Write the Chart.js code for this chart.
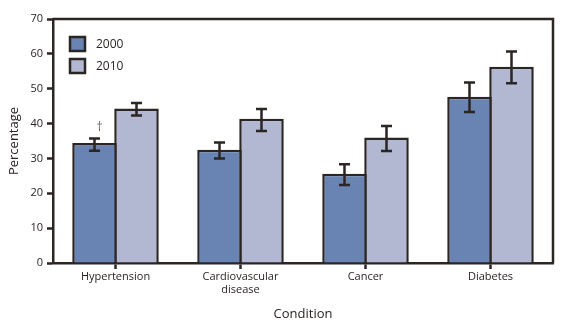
<!DOCTYPE html>
<html>
<head>
<meta charset="utf-8">
<script src="https://cdn.jsdelivr.net/npm/chart.js@4"></script>
<style>
  html, body { margin: 0; padding: 0; background: #fff; }
  #wrap { width: 583px; height: 324px; }
</style>
</head>
<body>
<div id="wrap"><canvas id="grafico" width="583" height="324"></canvas></div>
<script>
const categorias = ['Hypertension', ['Cardiovascular', 'disease'], 'Cancer', 'Diabetes'];
const anos = ['2000', '2010'];
const valores2000 = [34.4, 32.5, 25.6, 47.7];
const baixo2000 = [32.2, 30.0, 22.4, 43.3];
const alto2000 = [35.7, 34.6, 28.3, 51.8];
const valores2010 = [44.3, 41.4, 36.0, 56.3];
const baixo2010 = [42.3, 37.9, 32.1, 51.6];
const alto2010 = [45.9, 44.2, 39.3, 60.7];
const ticksY = [0, 10, 20, 30, 40, 50, 60, 70];

const escuro = '#2b2523';
const cor2000 = '#6983b3';
const cor2010 = '#b2b7d2';
const fonte = "'Open Sans', 'Liberation Sans', sans-serif";

// caixa em volta da area do grafico (topo e direita)
const caixa = {
    id: 'caixa',
    afterDatasetsDraw(chart) {
        const a = chart.chartArea;
        const ctx = chart.ctx;
        ctx.save();
        ctx.strokeStyle = escuro;
        ctx.lineWidth = 2.5;
        ctx.beginPath();
        ctx.moveTo(a.left, a.top);
        ctx.lineTo(a.right, a.top);
        ctx.lineTo(a.right, a.bottom);
        ctx.stroke();
        ctx.restore();
    }
};

// barras de erro
const barrasErro = {
    id: 'barrasErro',
    afterDatasetsDraw(chart) {
        const ctx = chart.ctx;
        const y = chart.scales.y;
        const limites = [[baixo2000, alto2000], [baixo2010, alto2010]];
        ctx.save();
        ctx.strokeStyle = escuro;
        ctx.lineWidth = 2.5;
        chart.data.datasets.forEach((ds, d) => {
            chart.getDatasetMeta(d).data.forEach((barra, i) => {
                const x = barra.x;
                const y1 = y.getPixelForValue(limites[d][0][i]);
                const y2 = y.getPixelForValue(limites[d][1][i]);
                ctx.beginPath();
                ctx.moveTo(x, y1); ctx.lineTo(x, y2);
                ctx.moveTo(x - 5.5, y1); ctx.lineTo(x + 5.5, y1);
                ctx.moveTo(x - 5.5, y2); ctx.lineTo(x + 5.5, y2);
                ctx.stroke();
            });
        });
        // marca da hipertensao 2000
        const b = chart.getDatasetMeta(0).data[0];
        ctx.fillStyle = '#8a5a30';
        ctx.font = '12px ' + fonte;
        ctx.textAlign = 'center';
        ctx.textBaseline = 'middle';
        ctx.fillText('\u2020', b.x + 5, y.getPixelForValue(alto2000[0]) - 11);
        ctx.restore();
    }
};

// legenda dentro do grafico
const legenda = {
    id: 'legenda',
    afterDraw(chart) {
        const ctx = chart.ctx;
        const a = chart.chartArea;
        ctx.save();
        ctx.font = '12px ' + fonte;
        ctx.textBaseline = 'middle';
        ctx.textAlign = 'left';
        chart.data.datasets.forEach((ds, d) => {
            const x = a.left + 17;
            const yy = a.top + 18 + d * 22;
            ctx.fillStyle = ds.backgroundColor;
            ctx.fillRect(x, yy, 15, 14);
            ctx.strokeStyle = escuro;
            ctx.lineWidth = 2.5;
            ctx.strokeRect(x, yy, 15, 14);
            ctx.fillStyle = escuro;
            ctx.fillText(ds.label, x + 26, yy + 7.5);
        });
        ctx.restore();
    }
};

new Chart(document.getElementById('grafico').getContext('2d'), {
    type: 'bar',
    data: {
        labels: categorias,
        datasets: [
            {
                label: anos[0],
                data: valores2000,
                backgroundColor: cor2000,
                borderColor: escuro,
                borderWidth: 2.5,
                barPercentage: 1.06,
                categoryPercentage: 0.672
            },
            {
                label: anos[1],
                data: valores2010,
                backgroundColor: cor2010,
                borderColor: escuro,
                borderWidth: 2.5,
                barPercentage: 1.06,
                categoryPercentage: 0.672
            }
        ]
    },
    options: {
        responsive: false,
        animation: false,
        layout: { padding: { top: 19, right: 30, left: 0, bottom: 0 } },
        plugins: {
            legend: { display: false },
            tooltip: { enabled: false }
        },
        scales: {
            x: {
                afterFit(scale) { scale.height = 61; },
                grid: {
                    offset: false,
                    drawOnChartArea: false,
                    drawTicks: true,
                    tickLength: 6,
                    tickWidth: 2.5,
                    tickColor: escuro
                },
                border: { display: true, color: escuro, width: 2.5 },
                ticks: {
                    color: escuro,
                    font: { family: fonte, size: 11 },
                    padding: 1,
                    maxRotation: 0,
                    autoSkip: false
                },
                title: {
                    display: true,
                    text: 'Condition',
                    color: escuro,
                    font: { family: fonte, size: 13 },
                    padding: { top: 0, bottom: 2 }
                }
            },
            y: {
                min: 0,
                max: 70,
                afterFit(scale) { scale.width = 53; },
                afterBuildTicks(scale) { scale.ticks = ticksY.map(v => ({ value: v })); },
                grid: {
                    drawOnChartArea: false,
                    drawTicks: true,
                    tickLength: 6,
                    tickWidth: 2.5,
                    tickColor: escuro
                },
                border: { display: true, color: escuro, width: 2.5 },
                ticks: {
                    color: escuro,
                    font: { family: fonte, size: 11 },
                    padding: 4
                },
                title: {
                    display: true,
                    text: 'Percentage',
                    color: escuro,
                    font: { family: fonte, size: 13 },
                    padding: { top: 6, bottom: 0 }
                }
            }
        }
    },
    plugins: [caixa, barrasErro, legenda]
});
</script>
</body>
</html>
